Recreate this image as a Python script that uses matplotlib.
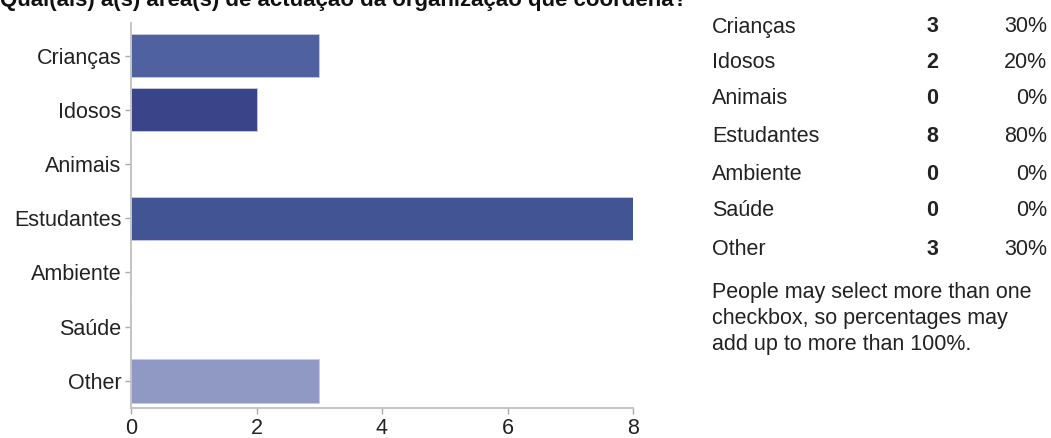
import matplotlib
matplotlib.use('Agg')
import matplotlib.pyplot as plt
import numpy as np

plt.rcParams['font.family'] = ['Liberation Sans', 'DejaVu Sans']

# survey answers
categories = ['Crianças', 'Idosos', 'Animais', 'Estudantes', 'Ambiente', 'Saúde', 'Other']
counts = [3, 2, 0, 8, 0, 0, 3]
respondents = 10
bar_colors = ['#5061a0', '#3a4489', '#6b78b0', '#425493', '#7a86b8', '#8590c0', '#8f99c4']

title = 'Qual(ais) a(s) área(s) de actuação da organização que coordena?'
note = 'People may select more than one\ncheckbox, so percentages may\nadd up to more than 100%.'

fig = plt.figure(figsize=(10.51, 4.38), dpi=100)
ax = fig.add_axes([131/1051, 1 - 408/438, (633 - 131)/1051, (408 - 23)/438])

y = np.arange(len(categories))
ax.barh(y, counts, height=0.8, color=bar_colors, edgecolor='#c5cbe2', linewidth=0.6)
ax.set_ylim(len(categories) - 0.5, -0.6)
ax.set_xlim(0, 8)
ax.set_xticks([0, 2, 4, 6, 8])
ax.set_yticks(y)
ax.set_yticklabels(categories)

for s in ['top', 'right']:
    ax.spines[s].set_visible(False)
for s in ['left', 'bottom']:
    ax.spines[s].set_color('#c4c4c4')
    ax.spines[s].set_linewidth(1.4)
ax.tick_params(axis='both', colors='#aaaaaa', length=4, width=1,
               labelsize=15.5, labelcolor='#222222', pad=3)

# question title, top half runs off the figure
fig.text(0.0, 1 - 6/438, title, fontsize=16, fontweight='bold',
         color='#111111', va='baseline', ha='left')

# summary table on the right
row_y = 1 - np.array([27, 62, 99, 136, 174, 211, 249]) / 438
for i, cat in enumerate(categories):
    fig.text(712/1051, row_y[i], cat, fontsize=15.5, color='#222222', va='center', ha='left')
    fig.text(932/1051, row_y[i], str(counts[i]), fontsize=15.5, fontweight='bold',
             color='#222222', va='center', ha='center')
    fig.text(1047/1051, row_y[i], '{0:.0f}%'.format(100.0 * counts[i] / respondents),
             fontsize=15.5, color='#222222', va='center', ha='right')

fig.text(712/1051, 1 - 282/438, note, fontsize=15.5, color='#222222',
         va='top', ha='left', linespacing=1.3)

plt.savefig('out.png', dpi=100)
plt.close()
